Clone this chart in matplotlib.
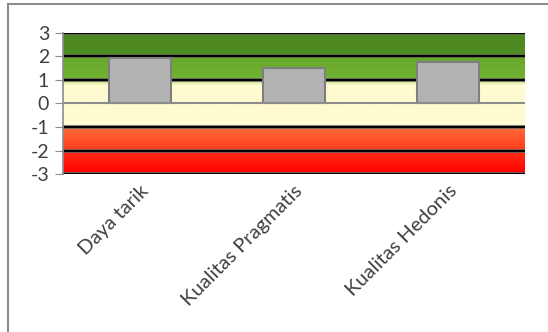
import numpy as np
import matplotlib
matplotlib.use("Agg")
import matplotlib.pyplot as plt
from matplotlib.colors import LinearSegmentedColormap
from matplotlib.patches import Rectangle

plt.rcParams['font.family'] = ['Lato', 'DejaVu Sans']

categories = ["Daya tarik", "Kualitas Pragmatis", "Kualitas Hedonis"]
scores = [1.93, 1.52, 1.75]
y_ticks = [-3, -2, -1, 0, 1, 2, 3]

# background bands: (low, high, colour at bottom, colour at top)
bands = [
    (-3, -2, "#ff0000", "#ff3018"),
    (-2, -1, "#ff3c1c", "#ff6e3e"),
    (-1, 0.8, "#fffbd0", "#fffbd0"),
    (0.8, 1.0, "#fffbd0", "#b8d878"),
    (1.0, 2.0, "#74b434", "#66a62a"),
    (2.0, 3.0, "#4f8e22", "#4e8620"),
]

fig = plt.figure(figsize=(5.48, 3.32), dpi=100)
ax = fig.add_axes([63 / 548, 1 - 174 / 332, (525 - 63) / 548, (174 - 33) / 332])

n = len(categories)
x = np.arange(n)
xlim = (-0.5, n - 0.5)

for lo, hi, c0, c1 in bands:
    cmap = LinearSegmentedColormap.from_list("b", [c0, c1])
    grad = np.linspace(0, 1, 64).reshape(-1, 1)
    ax.imshow(grad, cmap=cmap, aspect="auto", origin="lower",
              extent=(xlim[0], xlim[1], lo, hi), zorder=0, interpolation="bilinear")

for yv in y_ticks:
    if yv == 0:
        continue
    ax.axhline(yv, color="#606060", lw=2.6, zorder=1)
    ax.axhline(yv, color="black", lw=1.4, zorder=1)
ax.axhline(0, color="#8c8c8c", lw=1.5, zorder=3)

ax.bar(x, scores, width=0.4, color="#b3b3b3", edgecolor="#7f7f7f", lw=1.5, zorder=2)

ax.set_xlim(*xlim)
ax.set_ylim(-3, 3)
ax.set_yticks(y_ticks)
ax.set_yticklabels([str(v) for v in y_ticks], fontsize=14, color="#404040")
ax.set_xticks(x)
ax.set_xticklabels(categories, rotation=45, ha="right", va="top",
                   rotation_mode="anchor", fontsize=14.5, color="#404040")
# shift category labels a little left, like the original
for lbl in ax.get_xticklabels():
    lbl.set_x(lbl.get_position()[0])
ax.tick_params(axis="x", length=0, pad=6)
ax.tick_params(axis="y", length=6, color="#8c8c8c", pad=4)
for s in ["top", "right", "bottom"]:
    ax.spines[s].set_visible(False)
ax.spines["left"].set_color("#8c8c8c")
ax.spines["left"].set_linewidth(1.2)

# outer chart frame (partly cut off at right and bottom)
fig.patches.append(Rectangle((7.5 / 548, -0.1), 1.2, 1 - 4.5 / 332 + 0.1,
                             transform=fig.transFigure, fill=False,
                             edgecolor="#8c8c8c", lw=1.5))

fig.savefig("out.png", dpi=100)
